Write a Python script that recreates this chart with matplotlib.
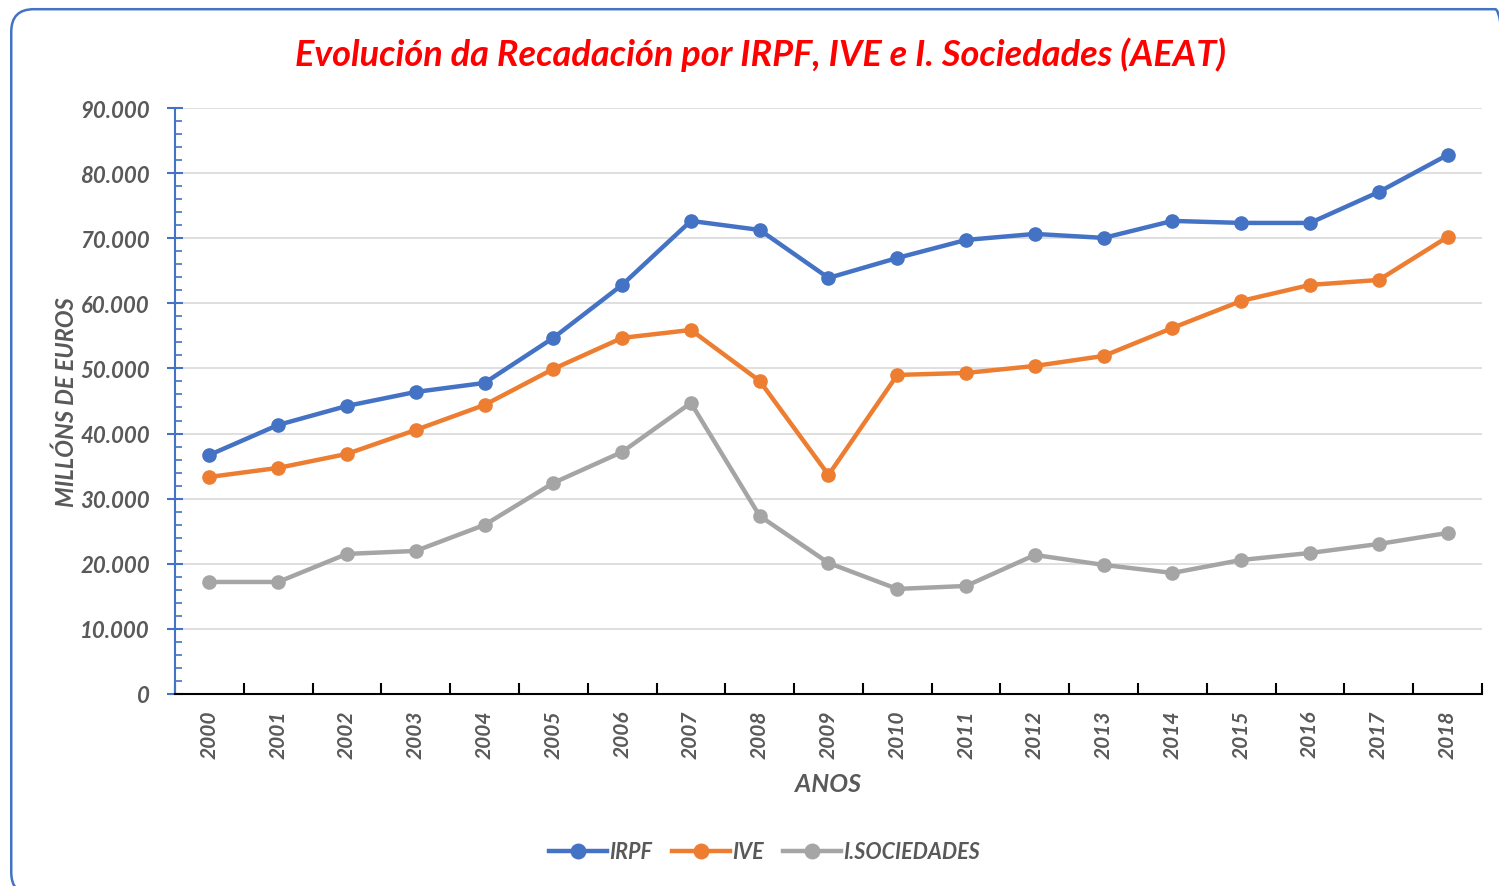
import matplotlib.pyplot as plt
from matplotlib.patches import FancyBboxPatch
from matplotlib.ticker import MultipleLocator, FuncFormatter

# values (millions of euros)
years = [str(y) for y in range(2000, 2019)]
irpf = [36710, 41320, 44240, 46390, 47770, 54690, 62830, 72660, 71270, 63900,
        66970, 69740, 70660, 70050, 72660, 72350, 72350, 77110, 82800]
ive = [33330, 34720, 36870, 40550, 44390, 49920, 54690, 55910, 48080, 33640,
       49000, 49310, 50380, 51920, 56220, 60370, 62830, 63590, 70200]
isoc = [17200, 17200, 21510, 21970, 25960, 32410, 37170, 44700, 27340, 20120,
        16130, 16590, 21350, 19820, 18590, 20580, 21660, 23040, 24730]

plt.rcParams['font.family'] = ['Lato', 'DejaVu Sans']

txt = '#595959'
fig = plt.figure(figsize=(14.99, 8.87), dpi=100)
ax = fig.add_axes([0.1167, 0.2165, 0.8720, 0.6606])

# rounded frame around the chart (runs off the right and bottom edges)
frame = FancyBboxPatch((0.0075, -0.01), 1.005, 0.9985, transform=fig.transFigure,
                       boxstyle="round,pad=0,rounding_size=0.015",
                       mutation_aspect=1499 / 887,
                       fc='none', ec='#4472C4', lw=1.8, clip_on=False)
fig.patches.append(frame)

x = range(len(years))
ax.plot(x, irpf, color='#4472C4', lw=3.2, marker='o', ms=9.5, label='IRPF', zorder=3)
ax.plot(x, ive, color='#ED7D31', lw=3.2, marker='o', ms=9.5, label='IVE', zorder=3)
ax.plot(x, isoc, color='#A5A5A5', lw=3.2, marker='o', ms=9.5, label='I.SOCIEDADES', zorder=3)

ax.set_xlim(-0.5, len(years) - 0.5)
ax.set_ylim(0, 90000)
ax.yaxis.set_major_locator(MultipleLocator(10000))
ax.yaxis.set_minor_locator(MultipleLocator(2000))
ax.yaxis.set_major_formatter(FuncFormatter(lambda v, p: f"{int(v):,}".replace(',', '.')))
ax.grid(axis='y', color='#D9D9D9', lw=1.2)
ax.set_axisbelow(True)

ax.set_xticks(list(x))
ax.set_xticklabels(years, rotation=90)
ax.set_xticks([i - 0.5 for i in range(len(years) + 1)], minor=True)
ax.tick_params(axis='x', which='major', length=0, pad=11, labelsize=15, labelcolor=txt)
ax.tick_params(axis='x', which='minor', direction='in', length=8, width=1.5, color='black')
ax.tick_params(axis='y', which='major', direction='inout', length=12, width=1.5,
               color='#4472C4', labelsize=16, labelcolor=txt, pad=12)
ax.tick_params(axis='y', which='minor', direction='in', length=5, width=1.2, color='#4472C4')
for lab in ax.get_xticklabels() + ax.get_yticklabels():
    lab.set_fontstyle('italic')
    lab.set_fontweight('bold')

for s in ['top', 'right']:
    ax.spines[s].set_visible(False)
ax.spines['left'].set_color('#4472C4')
ax.spines['left'].set_linewidth(1.5)
ax.spines['bottom'].set_color('black')
ax.spines['bottom'].set_linewidth(1.5)

fig.text(761 / 1499, 1 - 55 / 887, 'Evolución da Recadación por IRPF, IVE e I. Sociedades (AEAT)',
         color='#FF0000', fontsize=26, fontstyle='italic', fontweight='bold',
         ha='center', va='center')
ax.set_ylabel('MILLÓNS DE EUROS', color=txt, fontsize=17, fontstyle='italic',
              fontweight='bold', labelpad=2)
ax.set_xlabel('ANOS', color=txt, fontsize=18, fontstyle='italic', fontweight='bold', labelpad=10)

leg = ax.legend(loc='center', bbox_to_anchor=(0.451, -0.269), ncol=3, frameon=False,
                handlelength=2.7, handletextpad=0.1, columnspacing=0.9, markerscale=1.1,
                prop={'size': 15.5, 'style': 'italic', 'weight': 'bold'})
for t in leg.get_texts():
    t.set_color(txt)

fig.savefig('out.png', dpi=100)
